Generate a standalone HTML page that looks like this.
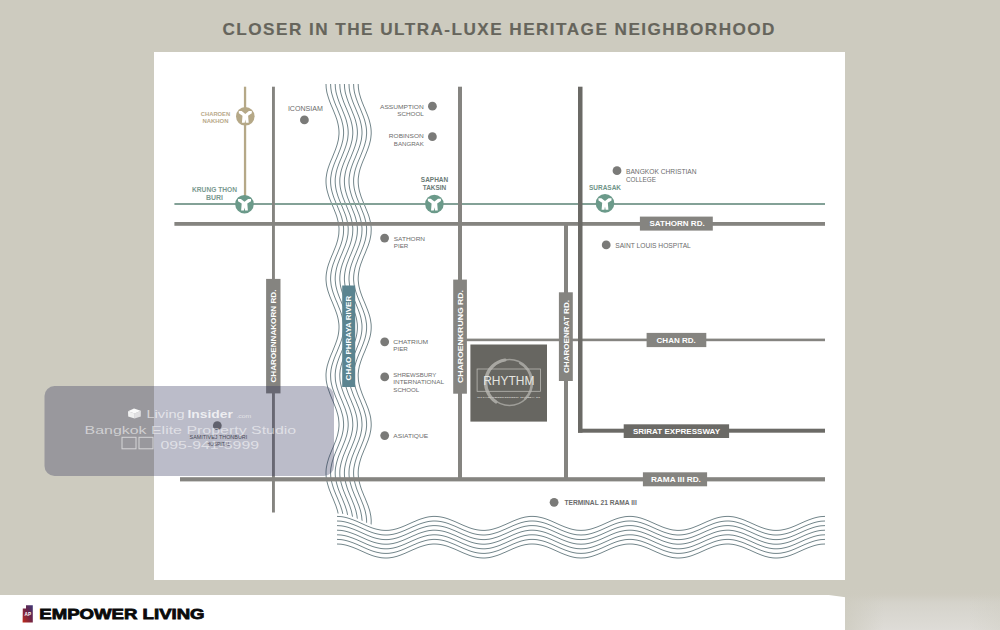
<!DOCTYPE html><html><head><meta charset="utf-8"><style>
html,body{margin:0;padding:0;width:1000px;height:630px;overflow:hidden;background:#cdcbbf;}
svg{display:block;font-family:"Liberation Sans", sans-serif;}
</style></head><body>
<svg width="1000" height="630" viewBox="0 0 1000 630">
<defs>
<linearGradient id="brg" x1="0" y1="0" x2="0" y2="1">
<stop offset="0" stop-color="#cdcbbf"/><stop offset="0.15" stop-color="#cecbc0"/><stop offset="0.35" stop-color="#d5d3cb"/><stop offset="1" stop-color="#dedcd7"/>
</linearGradient>
<linearGradient id="brh" x1="0" y1="0" x2="1" y2="0">
<stop offset="0" stop-color="#cdcbbf" stop-opacity="0.8"/><stop offset="0.25" stop-color="#cdcbbf" stop-opacity="0"/><stop offset="0.8" stop-color="#cdcbbf" stop-opacity="0"/><stop offset="1" stop-color="#cdcbbf" stop-opacity="0.3"/>
</linearGradient>
<linearGradient id="apg" x1="1" y1="0" x2="0" y2="1">
<stop offset="0" stop-color="#3c3878"/><stop offset="0.45" stop-color="#6a2448"/><stop offset="1" stop-color="#c22a18"/>
</linearGradient>
<g id="sta"><path d="M-6.5,-5.2 L-3.6,-5.2 L0,-2.4 L3.6,-5.2 L6.5,-5.2 L6.5,-3 L2.8,-0.6 L3.4,6.4 L0.6,6.4 L0,3.2 L-0.6,6.4 L-3.4,6.4 L-2.8,-0.6 L-6.5,-3 Z" fill="#fff"/></g>
<clipPath id="rclip"><polygon points="300,60 400,60 400.0,524.7 398.0,525.3 396.0,525.9 394.0,526.4 392.0,526.8 390.0,527.1 388.0,527.3 386.0,527.4 384.0,527.4 382.0,527.2 380.0,526.9 378.0,526.5 376.0,526.1 374.0,525.5 372.0,524.8 370.0,524.1 368.0,523.3 366.0,522.4 364.0,521.6 362.0,520.7 360.0,519.8 358.0,518.9 356.0,518.0 354.0,517.2 352.0,516.4 350.0,515.7 348.0,515.1 346.0,514.5 344.0,514.1 342.0,513.8 340.0,513.5 338.0,513.4 336.0,513.4 334.0,513.5 332.0,513.8 330.0,514.1 328.0,514.5 326.0,515.1 324.0,515.7 322.0,516.4 320.0,517.2 318.0,518.0 316.0,518.9 314.0,519.8 312.0,520.7 310.0,521.6 308.0,522.4 306.0,523.3 304.0,524.1 302.0,524.8 300.0,525.5"/></clipPath>
</defs>
<rect x="0" y="0" width="1000" height="630" fill="#cdcbbf"/>
<rect x="154" y="52" width="691" height="528" fill="#ffffff"/>
<rect x="0" y="595" width="845" height="35" fill="#ffffff"/>
<rect x="845" y="588" width="155" height="42" fill="url(#brg)"/><rect x="845" y="588" width="155" height="42" fill="url(#brh)"/><polygon points="825,594.5 845.6,594.5 845.6,597.3" fill="#cdcbbf"/>

<text transform="translate(222.5,35) scale(1.1,1)" x="0" y="0" font-size="15.6" fill="#66655c" stroke="#66655c" stroke-width="0.15" font-weight="bold" textLength="501.8" lengthAdjust="spacing">CLOSER IN THE ULTRA-LUXE HERITAGE NEIGHBORHOOD</text>
<g clip-path="url(#rclip)" fill="none" stroke="#72858a" stroke-width="1">
<path d="M326.0,84.0 L326.1,86.0 L326.2,88.0 L326.5,90.0 L326.8,92.0 L327.3,94.0 L327.9,96.0 L328.5,98.0 L329.2,100.0 L329.9,102.0 L330.7,104.0 L331.5,106.0 L332.4,108.0 L333.2,110.0 L334.0,112.0 L334.8,114.0 L335.6,116.0 L336.3,118.0 L337.0,120.0 L337.5,122.0 L338.0,124.0 L338.4,126.0 L338.7,128.0 L338.9,130.0 L339.0,132.0 L339.0,134.0 L338.8,136.0 L338.6,138.0 L338.3,140.0 L337.8,142.0 L337.3,144.0 L336.7,146.0 L336.0,148.0 L335.3,150.0 L334.5,152.0 L333.7,154.0 L332.9,156.0 L332.1,158.0 L331.2,160.0 L330.4,162.0 L329.6,164.0 L328.9,166.0 L328.2,168.0 L327.6,170.0 L327.1,172.0 L326.7,174.0 L326.4,176.0 L326.1,178.0 L326.0,180.0 L326.0,182.0 L326.1,184.0 L326.3,186.0 L326.6,188.0 L327.0,190.0 L327.5,192.0 L328.1,194.0 L328.7,196.0 L329.4,198.0 L330.2,200.0 L331.0,202.0 L331.8,204.0 L332.7,206.0 L333.5,208.0 L334.3,210.0 L335.1,212.0 L335.9,214.0 L336.6,216.0 L337.2,218.0 L337.7,220.0 L338.2,222.0 L338.5,224.0 L338.8,226.0 L339.0,228.0 L339.0,230.0 L338.9,232.0 L338.8,234.0 L338.5,236.0 L338.1,238.0 L337.7,240.0 L337.1,242.0 L336.5,244.0 L335.8,246.0 L335.0,248.0 L334.2,250.0 L333.4,252.0 L332.6,254.0 L331.7,256.0 L330.9,258.0 L330.1,260.0 L329.4,262.0 L328.6,264.0 L328.0,266.0 L327.4,268.0 L327.0,270.0 L326.6,272.0 L326.3,274.0 L326.1,276.0 L326.0,278.0 L326.0,280.0 L326.2,282.0 L326.4,284.0 L326.7,286.0 L327.2,288.0 L327.7,290.0 L328.3,292.0 L329.0,294.0 L329.7,296.0 L330.5,298.0 L331.3,300.0 L332.2,302.0 L333.0,304.0 L333.8,306.0 L334.6,308.0 L335.4,310.0 L336.1,312.0 L336.8,314.0 L337.4,316.0 L337.9,318.0 L338.3,320.0 L338.6,322.0 L338.9,324.0 L339.0,326.0 L339.0,328.0 L338.9,330.0 L338.7,332.0 L338.4,334.0 L338.0,336.0 L337.5,338.0 L336.9,340.0 L336.2,342.0 L335.5,344.0 L334.7,346.0 L333.9,348.0 L333.1,350.0 L332.3,352.0 L331.4,354.0 L330.6,356.0 L329.8,358.0 L329.1,360.0 L328.4,362.0 L327.8,364.0 L327.2,366.0 L326.8,368.0 L326.4,370.0 L326.2,372.0 L326.0,374.0 L326.0,376.0 L326.1,378.0 L326.2,380.0 L326.5,382.0 L326.9,384.0 L327.4,386.0 L327.9,388.0 L328.6,390.0 L329.3,392.0 L330.0,394.0 L330.8,396.0 L331.6,398.0 L332.5,400.0 L333.3,402.0 L334.1,404.0 L334.9,406.0 L335.7,408.0 L336.4,410.0 L337.0,412.0 L337.6,414.0 L338.1,416.0 L338.5,418.0 L338.7,420.0 L338.9,422.0 L339.0,424.0 L339.0,426.0 L338.8,428.0 L338.6,430.0 L338.2,432.0 L337.8,434.0 L337.3,436.0 L336.6,438.0 L336.0,440.0 L335.2,442.0 L334.4,444.0 L333.6,446.0 L332.8,448.0 L331.9,450.0 L331.1,452.0 L330.3,454.0 L329.5,456.0 L328.8,458.0 L328.2,460.0 L327.6,462.0 L327.1,464.0 L326.7,466.0 L326.3,468.0 L326.1,470.0 L326.0,472.0 L326.0,474.0 L326.1,476.0 L326.3,478.0 L326.7,480.0 L327.1,482.0 L327.6,484.0 L328.2,486.0 L328.8,488.0 L329.5,490.0 L330.3,492.0 L331.1,494.0 L331.9,496.0 L332.8,498.0 L333.6,500.0 L334.4,502.0 L335.2,504.0 L336.0,506.0 L336.6,508.0 L337.3,510.0 L337.8,512.0 L338.2,514.0 L338.6,516.0 L338.8,518.0 L339.0,520.0 L339.0,522.0 L338.9,524.0 L338.7,526.0 L338.5,528.0 L338.1,530.0"/>
<path d="M330.6,84.0 L330.7,86.0 L330.8,88.0 L331.1,90.0 L331.4,92.0 L331.9,94.0 L332.5,96.0 L333.1,98.0 L333.8,100.0 L334.5,102.0 L335.3,104.0 L336.1,106.0 L337.0,108.0 L337.8,110.0 L338.6,112.0 L339.4,114.0 L340.2,116.0 L340.9,118.0 L341.6,120.0 L342.1,122.0 L342.6,124.0 L343.0,126.0 L343.3,128.0 L343.5,130.0 L343.6,132.0 L343.6,134.0 L343.4,136.0 L343.2,138.0 L342.9,140.0 L342.4,142.0 L341.9,144.0 L341.3,146.0 L340.6,148.0 L339.9,150.0 L339.1,152.0 L338.3,154.0 L337.5,156.0 L336.7,158.0 L335.8,160.0 L335.0,162.0 L334.2,164.0 L333.5,166.0 L332.8,168.0 L332.2,170.0 L331.7,172.0 L331.3,174.0 L331.0,176.0 L330.7,178.0 L330.6,180.0 L330.6,182.0 L330.7,184.0 L330.9,186.0 L331.2,188.0 L331.6,190.0 L332.1,192.0 L332.7,194.0 L333.3,196.0 L334.0,198.0 L334.8,200.0 L335.6,202.0 L336.4,204.0 L337.3,206.0 L338.1,208.0 L338.9,210.0 L339.7,212.0 L340.5,214.0 L341.2,216.0 L341.8,218.0 L342.3,220.0 L342.8,222.0 L343.1,224.0 L343.4,226.0 L343.6,228.0 L343.6,230.0 L343.5,232.0 L343.4,234.0 L343.1,236.0 L342.7,238.0 L342.3,240.0 L341.7,242.0 L341.1,244.0 L340.4,246.0 L339.6,248.0 L338.8,250.0 L338.0,252.0 L337.2,254.0 L336.3,256.0 L335.5,258.0 L334.7,260.0 L334.0,262.0 L333.2,264.0 L332.6,266.0 L332.0,268.0 L331.6,270.0 L331.2,272.0 L330.9,274.0 L330.7,276.0 L330.6,278.0 L330.6,280.0 L330.8,282.0 L331.0,284.0 L331.3,286.0 L331.8,288.0 L332.3,290.0 L332.9,292.0 L333.6,294.0 L334.3,296.0 L335.1,298.0 L335.9,300.0 L336.8,302.0 L337.6,304.0 L338.4,306.0 L339.2,308.0 L340.0,310.0 L340.7,312.0 L341.4,314.0 L342.0,316.0 L342.5,318.0 L342.9,320.0 L343.2,322.0 L343.5,324.0 L343.6,326.0 L343.6,328.0 L343.5,330.0 L343.3,332.0 L343.0,334.0 L342.6,336.0 L342.1,338.0 L341.5,340.0 L340.8,342.0 L340.1,344.0 L339.3,346.0 L338.5,348.0 L337.7,350.0 L336.9,352.0 L336.0,354.0 L335.2,356.0 L334.4,358.0 L333.7,360.0 L333.0,362.0 L332.4,364.0 L331.8,366.0 L331.4,368.0 L331.0,370.0 L330.8,372.0 L330.6,374.0 L330.6,376.0 L330.7,378.0 L330.8,380.0 L331.1,382.0 L331.5,384.0 L332.0,386.0 L332.5,388.0 L333.2,390.0 L333.9,392.0 L334.6,394.0 L335.4,396.0 L336.2,398.0 L337.1,400.0 L337.9,402.0 L338.7,404.0 L339.5,406.0 L340.3,408.0 L341.0,410.0 L341.6,412.0 L342.2,414.0 L342.7,416.0 L343.1,418.0 L343.3,420.0 L343.5,422.0 L343.6,424.0 L343.6,426.0 L343.4,428.0 L343.2,430.0 L342.8,432.0 L342.4,434.0 L341.9,436.0 L341.2,438.0 L340.6,440.0 L339.8,442.0 L339.0,444.0 L338.2,446.0 L337.4,448.0 L336.5,450.0 L335.7,452.0 L334.9,454.0 L334.1,456.0 L333.4,458.0 L332.8,460.0 L332.2,462.0 L331.7,464.0 L331.3,466.0 L330.9,468.0 L330.7,470.0 L330.6,472.0 L330.6,474.0 L330.7,476.0 L330.9,478.0 L331.3,480.0 L331.7,482.0 L332.2,484.0 L332.8,486.0 L333.4,488.0 L334.1,490.0 L334.9,492.0 L335.7,494.0 L336.5,496.0 L337.4,498.0 L338.2,500.0 L339.0,502.0 L339.8,504.0 L340.6,506.0 L341.2,508.0 L341.9,510.0 L342.4,512.0 L342.8,514.0 L343.2,516.0 L343.4,518.0 L343.6,520.0 L343.6,522.0 L343.5,524.0 L343.3,526.0 L343.1,528.0 L342.7,530.0"/>
<path d="M335.2,84.0 L335.3,86.0 L335.4,88.0 L335.7,90.0 L336.0,92.0 L336.5,94.0 L337.1,96.0 L337.7,98.0 L338.4,100.0 L339.1,102.0 L339.9,104.0 L340.7,106.0 L341.6,108.0 L342.4,110.0 L343.2,112.0 L344.0,114.0 L344.8,116.0 L345.5,118.0 L346.2,120.0 L346.7,122.0 L347.2,124.0 L347.6,126.0 L347.9,128.0 L348.1,130.0 L348.2,132.0 L348.2,134.0 L348.0,136.0 L347.8,138.0 L347.5,140.0 L347.0,142.0 L346.5,144.0 L345.9,146.0 L345.2,148.0 L344.5,150.0 L343.7,152.0 L342.9,154.0 L342.1,156.0 L341.3,158.0 L340.4,160.0 L339.6,162.0 L338.8,164.0 L338.1,166.0 L337.4,168.0 L336.8,170.0 L336.3,172.0 L335.9,174.0 L335.6,176.0 L335.3,178.0 L335.2,180.0 L335.2,182.0 L335.3,184.0 L335.5,186.0 L335.8,188.0 L336.2,190.0 L336.7,192.0 L337.3,194.0 L337.9,196.0 L338.6,198.0 L339.4,200.0 L340.2,202.0 L341.0,204.0 L341.9,206.0 L342.7,208.0 L343.5,210.0 L344.3,212.0 L345.1,214.0 L345.8,216.0 L346.4,218.0 L346.9,220.0 L347.4,222.0 L347.7,224.0 L348.0,226.0 L348.2,228.0 L348.2,230.0 L348.1,232.0 L348.0,234.0 L347.7,236.0 L347.3,238.0 L346.9,240.0 L346.3,242.0 L345.7,244.0 L345.0,246.0 L344.2,248.0 L343.4,250.0 L342.6,252.0 L341.8,254.0 L340.9,256.0 L340.1,258.0 L339.3,260.0 L338.6,262.0 L337.8,264.0 L337.2,266.0 L336.6,268.0 L336.2,270.0 L335.8,272.0 L335.5,274.0 L335.3,276.0 L335.2,278.0 L335.2,280.0 L335.4,282.0 L335.6,284.0 L335.9,286.0 L336.4,288.0 L336.9,290.0 L337.5,292.0 L338.2,294.0 L338.9,296.0 L339.7,298.0 L340.5,300.0 L341.4,302.0 L342.2,304.0 L343.0,306.0 L343.8,308.0 L344.6,310.0 L345.3,312.0 L346.0,314.0 L346.6,316.0 L347.1,318.0 L347.5,320.0 L347.8,322.0 L348.1,324.0 L348.2,326.0 L348.2,328.0 L348.1,330.0 L347.9,332.0 L347.6,334.0 L347.2,336.0 L346.7,338.0 L346.1,340.0 L345.4,342.0 L344.7,344.0 L343.9,346.0 L343.1,348.0 L342.3,350.0 L341.5,352.0 L340.6,354.0 L339.8,356.0 L339.0,358.0 L338.3,360.0 L337.6,362.0 L337.0,364.0 L336.4,366.0 L336.0,368.0 L335.6,370.0 L335.4,372.0 L335.2,374.0 L335.2,376.0 L335.3,378.0 L335.4,380.0 L335.7,382.0 L336.1,384.0 L336.6,386.0 L337.1,388.0 L337.8,390.0 L338.5,392.0 L339.2,394.0 L340.0,396.0 L340.8,398.0 L341.7,400.0 L342.5,402.0 L343.3,404.0 L344.1,406.0 L344.9,408.0 L345.6,410.0 L346.2,412.0 L346.8,414.0 L347.3,416.0 L347.7,418.0 L347.9,420.0 L348.1,422.0 L348.2,424.0 L348.2,426.0 L348.0,428.0 L347.8,430.0 L347.4,432.0 L347.0,434.0 L346.5,436.0 L345.8,438.0 L345.2,440.0 L344.4,442.0 L343.6,444.0 L342.8,446.0 L342.0,448.0 L341.1,450.0 L340.3,452.0 L339.5,454.0 L338.7,456.0 L338.0,458.0 L337.4,460.0 L336.8,462.0 L336.3,464.0 L335.9,466.0 L335.5,468.0 L335.3,470.0 L335.2,472.0 L335.2,474.0 L335.3,476.0 L335.5,478.0 L335.9,480.0 L336.3,482.0 L336.8,484.0 L337.4,486.0 L338.0,488.0 L338.7,490.0 L339.5,492.0 L340.3,494.0 L341.1,496.0 L342.0,498.0 L342.8,500.0 L343.6,502.0 L344.4,504.0 L345.2,506.0 L345.8,508.0 L346.5,510.0 L347.0,512.0 L347.4,514.0 L347.8,516.0 L348.0,518.0 L348.2,520.0 L348.2,522.0 L348.1,524.0 L347.9,526.0 L347.7,528.0 L347.3,530.0"/>
<path d="M339.8,84.0 L339.9,86.0 L340.0,88.0 L340.3,90.0 L340.6,92.0 L341.1,94.0 L341.7,96.0 L342.3,98.0 L343.0,100.0 L343.7,102.0 L344.5,104.0 L345.3,106.0 L346.2,108.0 L347.0,110.0 L347.8,112.0 L348.6,114.0 L349.4,116.0 L350.1,118.0 L350.8,120.0 L351.3,122.0 L351.8,124.0 L352.2,126.0 L352.5,128.0 L352.7,130.0 L352.8,132.0 L352.8,134.0 L352.6,136.0 L352.4,138.0 L352.1,140.0 L351.6,142.0 L351.1,144.0 L350.5,146.0 L349.8,148.0 L349.1,150.0 L348.3,152.0 L347.5,154.0 L346.7,156.0 L345.9,158.0 L345.0,160.0 L344.2,162.0 L343.4,164.0 L342.7,166.0 L342.0,168.0 L341.4,170.0 L340.9,172.0 L340.5,174.0 L340.2,176.0 L339.9,178.0 L339.8,180.0 L339.8,182.0 L339.9,184.0 L340.1,186.0 L340.4,188.0 L340.8,190.0 L341.3,192.0 L341.9,194.0 L342.5,196.0 L343.2,198.0 L344.0,200.0 L344.8,202.0 L345.6,204.0 L346.5,206.0 L347.3,208.0 L348.1,210.0 L348.9,212.0 L349.7,214.0 L350.4,216.0 L351.0,218.0 L351.5,220.0 L352.0,222.0 L352.3,224.0 L352.6,226.0 L352.8,228.0 L352.8,230.0 L352.7,232.0 L352.6,234.0 L352.3,236.0 L351.9,238.0 L351.5,240.0 L350.9,242.0 L350.3,244.0 L349.6,246.0 L348.8,248.0 L348.0,250.0 L347.2,252.0 L346.4,254.0 L345.5,256.0 L344.7,258.0 L343.9,260.0 L343.2,262.0 L342.4,264.0 L341.8,266.0 L341.2,268.0 L340.8,270.0 L340.4,272.0 L340.1,274.0 L339.9,276.0 L339.8,278.0 L339.8,280.0 L340.0,282.0 L340.2,284.0 L340.5,286.0 L341.0,288.0 L341.5,290.0 L342.1,292.0 L342.8,294.0 L343.5,296.0 L344.3,298.0 L345.1,300.0 L346.0,302.0 L346.8,304.0 L347.6,306.0 L348.4,308.0 L349.2,310.0 L349.9,312.0 L350.6,314.0 L351.2,316.0 L351.7,318.0 L352.1,320.0 L352.4,322.0 L352.7,324.0 L352.8,326.0 L352.8,328.0 L352.7,330.0 L352.5,332.0 L352.2,334.0 L351.8,336.0 L351.3,338.0 L350.7,340.0 L350.0,342.0 L349.3,344.0 L348.5,346.0 L347.7,348.0 L346.9,350.0 L346.1,352.0 L345.2,354.0 L344.4,356.0 L343.6,358.0 L342.9,360.0 L342.2,362.0 L341.6,364.0 L341.0,366.0 L340.6,368.0 L340.2,370.0 L340.0,372.0 L339.8,374.0 L339.8,376.0 L339.9,378.0 L340.0,380.0 L340.3,382.0 L340.7,384.0 L341.2,386.0 L341.7,388.0 L342.4,390.0 L343.1,392.0 L343.8,394.0 L344.6,396.0 L345.4,398.0 L346.3,400.0 L347.1,402.0 L347.9,404.0 L348.7,406.0 L349.5,408.0 L350.2,410.0 L350.8,412.0 L351.4,414.0 L351.9,416.0 L352.3,418.0 L352.5,420.0 L352.7,422.0 L352.8,424.0 L352.8,426.0 L352.6,428.0 L352.4,430.0 L352.0,432.0 L351.6,434.0 L351.1,436.0 L350.4,438.0 L349.8,440.0 L349.0,442.0 L348.2,444.0 L347.4,446.0 L346.6,448.0 L345.7,450.0 L344.9,452.0 L344.1,454.0 L343.3,456.0 L342.6,458.0 L342.0,460.0 L341.4,462.0 L340.9,464.0 L340.5,466.0 L340.1,468.0 L339.9,470.0 L339.8,472.0 L339.8,474.0 L339.9,476.0 L340.1,478.0 L340.5,480.0 L340.9,482.0 L341.4,484.0 L342.0,486.0 L342.6,488.0 L343.3,490.0 L344.1,492.0 L344.9,494.0 L345.7,496.0 L346.6,498.0 L347.4,500.0 L348.2,502.0 L349.0,504.0 L349.8,506.0 L350.4,508.0 L351.1,510.0 L351.6,512.0 L352.0,514.0 L352.4,516.0 L352.6,518.0 L352.8,520.0 L352.8,522.0 L352.7,524.0 L352.5,526.0 L352.3,528.0 L351.9,530.0"/>
<path d="M344.4,84.0 L344.5,86.0 L344.6,88.0 L344.9,90.0 L345.2,92.0 L345.7,94.0 L346.3,96.0 L346.9,98.0 L347.6,100.0 L348.3,102.0 L349.1,104.0 L349.9,106.0 L350.8,108.0 L351.6,110.0 L352.4,112.0 L353.2,114.0 L354.0,116.0 L354.7,118.0 L355.4,120.0 L355.9,122.0 L356.4,124.0 L356.8,126.0 L357.1,128.0 L357.3,130.0 L357.4,132.0 L357.4,134.0 L357.2,136.0 L357.0,138.0 L356.7,140.0 L356.2,142.0 L355.7,144.0 L355.1,146.0 L354.4,148.0 L353.7,150.0 L352.9,152.0 L352.1,154.0 L351.3,156.0 L350.5,158.0 L349.6,160.0 L348.8,162.0 L348.0,164.0 L347.3,166.0 L346.6,168.0 L346.0,170.0 L345.5,172.0 L345.1,174.0 L344.8,176.0 L344.5,178.0 L344.4,180.0 L344.4,182.0 L344.5,184.0 L344.7,186.0 L345.0,188.0 L345.4,190.0 L345.9,192.0 L346.5,194.0 L347.1,196.0 L347.8,198.0 L348.6,200.0 L349.4,202.0 L350.2,204.0 L351.1,206.0 L351.9,208.0 L352.7,210.0 L353.5,212.0 L354.3,214.0 L355.0,216.0 L355.6,218.0 L356.1,220.0 L356.6,222.0 L356.9,224.0 L357.2,226.0 L357.4,228.0 L357.4,230.0 L357.3,232.0 L357.2,234.0 L356.9,236.0 L356.5,238.0 L356.1,240.0 L355.5,242.0 L354.9,244.0 L354.2,246.0 L353.4,248.0 L352.6,250.0 L351.8,252.0 L351.0,254.0 L350.1,256.0 L349.3,258.0 L348.5,260.0 L347.8,262.0 L347.0,264.0 L346.4,266.0 L345.8,268.0 L345.4,270.0 L345.0,272.0 L344.7,274.0 L344.5,276.0 L344.4,278.0 L344.4,280.0 L344.6,282.0 L344.8,284.0 L345.1,286.0 L345.6,288.0 L346.1,290.0 L346.7,292.0 L347.4,294.0 L348.1,296.0 L348.9,298.0 L349.7,300.0 L350.6,302.0 L351.4,304.0 L352.2,306.0 L353.0,308.0 L353.8,310.0 L354.5,312.0 L355.2,314.0 L355.8,316.0 L356.3,318.0 L356.7,320.0 L357.0,322.0 L357.3,324.0 L357.4,326.0 L357.4,328.0 L357.3,330.0 L357.1,332.0 L356.8,334.0 L356.4,336.0 L355.9,338.0 L355.3,340.0 L354.6,342.0 L353.9,344.0 L353.1,346.0 L352.3,348.0 L351.5,350.0 L350.7,352.0 L349.8,354.0 L349.0,356.0 L348.2,358.0 L347.5,360.0 L346.8,362.0 L346.2,364.0 L345.6,366.0 L345.2,368.0 L344.8,370.0 L344.6,372.0 L344.4,374.0 L344.4,376.0 L344.5,378.0 L344.6,380.0 L344.9,382.0 L345.3,384.0 L345.8,386.0 L346.3,388.0 L347.0,390.0 L347.7,392.0 L348.4,394.0 L349.2,396.0 L350.0,398.0 L350.9,400.0 L351.7,402.0 L352.5,404.0 L353.3,406.0 L354.1,408.0 L354.8,410.0 L355.4,412.0 L356.0,414.0 L356.5,416.0 L356.9,418.0 L357.1,420.0 L357.3,422.0 L357.4,424.0 L357.4,426.0 L357.2,428.0 L357.0,430.0 L356.6,432.0 L356.2,434.0 L355.7,436.0 L355.0,438.0 L354.4,440.0 L353.6,442.0 L352.8,444.0 L352.0,446.0 L351.2,448.0 L350.3,450.0 L349.5,452.0 L348.7,454.0 L347.9,456.0 L347.2,458.0 L346.6,460.0 L346.0,462.0 L345.5,464.0 L345.1,466.0 L344.7,468.0 L344.5,470.0 L344.4,472.0 L344.4,474.0 L344.5,476.0 L344.7,478.0 L345.1,480.0 L345.5,482.0 L346.0,484.0 L346.6,486.0 L347.2,488.0 L347.9,490.0 L348.7,492.0 L349.5,494.0 L350.3,496.0 L351.2,498.0 L352.0,500.0 L352.8,502.0 L353.6,504.0 L354.4,506.0 L355.0,508.0 L355.7,510.0 L356.2,512.0 L356.6,514.0 L357.0,516.0 L357.2,518.0 L357.4,520.0 L357.4,522.0 L357.3,524.0 L357.1,526.0 L356.9,528.0 L356.5,530.0"/>
<path d="M349.0,84.0 L349.1,86.0 L349.2,88.0 L349.5,90.0 L349.8,92.0 L350.3,94.0 L350.9,96.0 L351.5,98.0 L352.2,100.0 L352.9,102.0 L353.7,104.0 L354.5,106.0 L355.4,108.0 L356.2,110.0 L357.0,112.0 L357.8,114.0 L358.6,116.0 L359.3,118.0 L360.0,120.0 L360.5,122.0 L361.0,124.0 L361.4,126.0 L361.7,128.0 L361.9,130.0 L362.0,132.0 L362.0,134.0 L361.8,136.0 L361.6,138.0 L361.3,140.0 L360.8,142.0 L360.3,144.0 L359.7,146.0 L359.0,148.0 L358.3,150.0 L357.5,152.0 L356.7,154.0 L355.9,156.0 L355.1,158.0 L354.2,160.0 L353.4,162.0 L352.6,164.0 L351.9,166.0 L351.2,168.0 L350.6,170.0 L350.1,172.0 L349.7,174.0 L349.4,176.0 L349.1,178.0 L349.0,180.0 L349.0,182.0 L349.1,184.0 L349.3,186.0 L349.6,188.0 L350.0,190.0 L350.5,192.0 L351.1,194.0 L351.7,196.0 L352.4,198.0 L353.2,200.0 L354.0,202.0 L354.8,204.0 L355.7,206.0 L356.5,208.0 L357.3,210.0 L358.1,212.0 L358.9,214.0 L359.6,216.0 L360.2,218.0 L360.7,220.0 L361.2,222.0 L361.5,224.0 L361.8,226.0 L362.0,228.0 L362.0,230.0 L361.9,232.0 L361.8,234.0 L361.5,236.0 L361.1,238.0 L360.7,240.0 L360.1,242.0 L359.5,244.0 L358.8,246.0 L358.0,248.0 L357.2,250.0 L356.4,252.0 L355.6,254.0 L354.7,256.0 L353.9,258.0 L353.1,260.0 L352.4,262.0 L351.6,264.0 L351.0,266.0 L350.4,268.0 L350.0,270.0 L349.6,272.0 L349.3,274.0 L349.1,276.0 L349.0,278.0 L349.0,280.0 L349.2,282.0 L349.4,284.0 L349.7,286.0 L350.2,288.0 L350.7,290.0 L351.3,292.0 L352.0,294.0 L352.7,296.0 L353.5,298.0 L354.3,300.0 L355.2,302.0 L356.0,304.0 L356.8,306.0 L357.6,308.0 L358.4,310.0 L359.1,312.0 L359.8,314.0 L360.4,316.0 L360.9,318.0 L361.3,320.0 L361.6,322.0 L361.9,324.0 L362.0,326.0 L362.0,328.0 L361.9,330.0 L361.7,332.0 L361.4,334.0 L361.0,336.0 L360.5,338.0 L359.9,340.0 L359.2,342.0 L358.5,344.0 L357.7,346.0 L356.9,348.0 L356.1,350.0 L355.3,352.0 L354.4,354.0 L353.6,356.0 L352.8,358.0 L352.1,360.0 L351.4,362.0 L350.8,364.0 L350.2,366.0 L349.8,368.0 L349.4,370.0 L349.2,372.0 L349.0,374.0 L349.0,376.0 L349.1,378.0 L349.2,380.0 L349.5,382.0 L349.9,384.0 L350.4,386.0 L350.9,388.0 L351.6,390.0 L352.3,392.0 L353.0,394.0 L353.8,396.0 L354.6,398.0 L355.5,400.0 L356.3,402.0 L357.1,404.0 L357.9,406.0 L358.7,408.0 L359.4,410.0 L360.0,412.0 L360.6,414.0 L361.1,416.0 L361.5,418.0 L361.7,420.0 L361.9,422.0 L362.0,424.0 L362.0,426.0 L361.8,428.0 L361.6,430.0 L361.2,432.0 L360.8,434.0 L360.3,436.0 L359.6,438.0 L359.0,440.0 L358.2,442.0 L357.4,444.0 L356.6,446.0 L355.8,448.0 L354.9,450.0 L354.1,452.0 L353.3,454.0 L352.5,456.0 L351.8,458.0 L351.2,460.0 L350.6,462.0 L350.1,464.0 L349.7,466.0 L349.3,468.0 L349.1,470.0 L349.0,472.0 L349.0,474.0 L349.1,476.0 L349.3,478.0 L349.7,480.0 L350.1,482.0 L350.6,484.0 L351.2,486.0 L351.8,488.0 L352.5,490.0 L353.3,492.0 L354.1,494.0 L354.9,496.0 L355.8,498.0 L356.6,500.0 L357.4,502.0 L358.2,504.0 L359.0,506.0 L359.6,508.0 L360.3,510.0 L360.8,512.0 L361.2,514.0 L361.6,516.0 L361.8,518.0 L362.0,520.0 L362.0,522.0 L361.9,524.0 L361.7,526.0 L361.5,528.0 L361.1,530.0"/>
<path d="M353.6,84.0 L353.7,86.0 L353.8,88.0 L354.1,90.0 L354.4,92.0 L354.9,94.0 L355.5,96.0 L356.1,98.0 L356.8,100.0 L357.5,102.0 L358.3,104.0 L359.1,106.0 L360.0,108.0 L360.8,110.0 L361.6,112.0 L362.4,114.0 L363.2,116.0 L363.9,118.0 L364.6,120.0 L365.1,122.0 L365.6,124.0 L366.0,126.0 L366.3,128.0 L366.5,130.0 L366.6,132.0 L366.6,134.0 L366.4,136.0 L366.2,138.0 L365.9,140.0 L365.4,142.0 L364.9,144.0 L364.3,146.0 L363.6,148.0 L362.9,150.0 L362.1,152.0 L361.3,154.0 L360.5,156.0 L359.7,158.0 L358.8,160.0 L358.0,162.0 L357.2,164.0 L356.5,166.0 L355.8,168.0 L355.2,170.0 L354.7,172.0 L354.3,174.0 L354.0,176.0 L353.7,178.0 L353.6,180.0 L353.6,182.0 L353.7,184.0 L353.9,186.0 L354.2,188.0 L354.6,190.0 L355.1,192.0 L355.7,194.0 L356.3,196.0 L357.0,198.0 L357.8,200.0 L358.6,202.0 L359.4,204.0 L360.3,206.0 L361.1,208.0 L361.9,210.0 L362.7,212.0 L363.5,214.0 L364.2,216.0 L364.8,218.0 L365.3,220.0 L365.8,222.0 L366.1,224.0 L366.4,226.0 L366.6,228.0 L366.6,230.0 L366.5,232.0 L366.4,234.0 L366.1,236.0 L365.7,238.0 L365.3,240.0 L364.7,242.0 L364.1,244.0 L363.4,246.0 L362.6,248.0 L361.8,250.0 L361.0,252.0 L360.2,254.0 L359.3,256.0 L358.5,258.0 L357.7,260.0 L357.0,262.0 L356.2,264.0 L355.6,266.0 L355.0,268.0 L354.6,270.0 L354.2,272.0 L353.9,274.0 L353.7,276.0 L353.6,278.0 L353.6,280.0 L353.8,282.0 L354.0,284.0 L354.3,286.0 L354.8,288.0 L355.3,290.0 L355.9,292.0 L356.6,294.0 L357.3,296.0 L358.1,298.0 L358.9,300.0 L359.8,302.0 L360.6,304.0 L361.4,306.0 L362.2,308.0 L363.0,310.0 L363.7,312.0 L364.4,314.0 L365.0,316.0 L365.5,318.0 L365.9,320.0 L366.2,322.0 L366.5,324.0 L366.6,326.0 L366.6,328.0 L366.5,330.0 L366.3,332.0 L366.0,334.0 L365.6,336.0 L365.1,338.0 L364.5,340.0 L363.8,342.0 L363.1,344.0 L362.3,346.0 L361.5,348.0 L360.7,350.0 L359.9,352.0 L359.0,354.0 L358.2,356.0 L357.4,358.0 L356.7,360.0 L356.0,362.0 L355.4,364.0 L354.8,366.0 L354.4,368.0 L354.0,370.0 L353.8,372.0 L353.6,374.0 L353.6,376.0 L353.7,378.0 L353.8,380.0 L354.1,382.0 L354.5,384.0 L355.0,386.0 L355.5,388.0 L356.2,390.0 L356.9,392.0 L357.6,394.0 L358.4,396.0 L359.2,398.0 L360.1,400.0 L360.9,402.0 L361.7,404.0 L362.5,406.0 L363.3,408.0 L364.0,410.0 L364.6,412.0 L365.2,414.0 L365.7,416.0 L366.1,418.0 L366.3,420.0 L366.5,422.0 L366.6,424.0 L366.6,426.0 L366.4,428.0 L366.2,430.0 L365.8,432.0 L365.4,434.0 L364.9,436.0 L364.2,438.0 L363.6,440.0 L362.8,442.0 L362.0,444.0 L361.2,446.0 L360.4,448.0 L359.5,450.0 L358.7,452.0 L357.9,454.0 L357.1,456.0 L356.4,458.0 L355.8,460.0 L355.2,462.0 L354.7,464.0 L354.3,466.0 L353.9,468.0 L353.7,470.0 L353.6,472.0 L353.6,474.0 L353.7,476.0 L353.9,478.0 L354.3,480.0 L354.7,482.0 L355.2,484.0 L355.8,486.0 L356.4,488.0 L357.1,490.0 L357.9,492.0 L358.7,494.0 L359.5,496.0 L360.4,498.0 L361.2,500.0 L362.0,502.0 L362.8,504.0 L363.6,506.0 L364.2,508.0 L364.9,510.0 L365.4,512.0 L365.8,514.0 L366.2,516.0 L366.4,518.0 L366.6,520.0 L366.6,522.0 L366.5,524.0 L366.3,526.0 L366.1,528.0 L365.7,530.0"/>
<path d="M358.2,84.0 L358.3,86.0 L358.4,88.0 L358.7,90.0 L359.0,92.0 L359.5,94.0 L360.1,96.0 L360.7,98.0 L361.4,100.0 L362.1,102.0 L362.9,104.0 L363.7,106.0 L364.6,108.0 L365.4,110.0 L366.2,112.0 L367.0,114.0 L367.8,116.0 L368.5,118.0 L369.2,120.0 L369.7,122.0 L370.2,124.0 L370.6,126.0 L370.9,128.0 L371.1,130.0 L371.2,132.0 L371.2,134.0 L371.0,136.0 L370.8,138.0 L370.5,140.0 L370.0,142.0 L369.5,144.0 L368.9,146.0 L368.2,148.0 L367.5,150.0 L366.7,152.0 L365.9,154.0 L365.1,156.0 L364.3,158.0 L363.4,160.0 L362.6,162.0 L361.8,164.0 L361.1,166.0 L360.4,168.0 L359.8,170.0 L359.3,172.0 L358.9,174.0 L358.6,176.0 L358.3,178.0 L358.2,180.0 L358.2,182.0 L358.3,184.0 L358.5,186.0 L358.8,188.0 L359.2,190.0 L359.7,192.0 L360.3,194.0 L360.9,196.0 L361.6,198.0 L362.4,200.0 L363.2,202.0 L364.0,204.0 L364.9,206.0 L365.7,208.0 L366.5,210.0 L367.3,212.0 L368.1,214.0 L368.8,216.0 L369.4,218.0 L369.9,220.0 L370.4,222.0 L370.7,224.0 L371.0,226.0 L371.2,228.0 L371.2,230.0 L371.1,232.0 L371.0,234.0 L370.7,236.0 L370.3,238.0 L369.9,240.0 L369.3,242.0 L368.7,244.0 L368.0,246.0 L367.2,248.0 L366.4,250.0 L365.6,252.0 L364.8,254.0 L363.9,256.0 L363.1,258.0 L362.3,260.0 L361.6,262.0 L360.8,264.0 L360.2,266.0 L359.6,268.0 L359.2,270.0 L358.8,272.0 L358.5,274.0 L358.3,276.0 L358.2,278.0 L358.2,280.0 L358.4,282.0 L358.6,284.0 L358.9,286.0 L359.4,288.0 L359.9,290.0 L360.5,292.0 L361.2,294.0 L361.9,296.0 L362.7,298.0 L363.5,300.0 L364.4,302.0 L365.2,304.0 L366.0,306.0 L366.8,308.0 L367.6,310.0 L368.3,312.0 L369.0,314.0 L369.6,316.0 L370.1,318.0 L370.5,320.0 L370.8,322.0 L371.1,324.0 L371.2,326.0 L371.2,328.0 L371.1,330.0 L370.9,332.0 L370.6,334.0 L370.2,336.0 L369.7,338.0 L369.1,340.0 L368.4,342.0 L367.7,344.0 L366.9,346.0 L366.1,348.0 L365.3,350.0 L364.5,352.0 L363.6,354.0 L362.8,356.0 L362.0,358.0 L361.3,360.0 L360.6,362.0 L360.0,364.0 L359.4,366.0 L359.0,368.0 L358.6,370.0 L358.4,372.0 L358.2,374.0 L358.2,376.0 L358.3,378.0 L358.4,380.0 L358.7,382.0 L359.1,384.0 L359.6,386.0 L360.1,388.0 L360.8,390.0 L361.5,392.0 L362.2,394.0 L363.0,396.0 L363.8,398.0 L364.7,400.0 L365.5,402.0 L366.3,404.0 L367.1,406.0 L367.9,408.0 L368.6,410.0 L369.2,412.0 L369.8,414.0 L370.3,416.0 L370.7,418.0 L370.9,420.0 L371.1,422.0 L371.2,424.0 L371.2,426.0 L371.0,428.0 L370.8,430.0 L370.4,432.0 L370.0,434.0 L369.5,436.0 L368.8,438.0 L368.2,440.0 L367.4,442.0 L366.6,444.0 L365.8,446.0 L365.0,448.0 L364.1,450.0 L363.3,452.0 L362.5,454.0 L361.7,456.0 L361.0,458.0 L360.4,460.0 L359.8,462.0 L359.3,464.0 L358.9,466.0 L358.5,468.0 L358.3,470.0 L358.2,472.0 L358.2,474.0 L358.3,476.0 L358.5,478.0 L358.9,480.0 L359.3,482.0 L359.8,484.0 L360.4,486.0 L361.0,488.0 L361.7,490.0 L362.5,492.0 L363.3,494.0 L364.1,496.0 L365.0,498.0 L365.8,500.0 L366.6,502.0 L367.4,504.0 L368.2,506.0 L368.8,508.0 L369.5,510.0 L370.0,512.0 L370.4,514.0 L370.8,516.0 L371.0,518.0 L371.2,520.0 L371.2,522.0 L371.1,524.0 L370.9,526.0 L370.7,528.0 L370.3,530.0"/>
</g>
<g fill="none" stroke="#72858a" stroke-width="1">
<path d="M337.0,516.4 L339.0,516.5 L341.0,516.6 L343.0,516.9 L345.0,517.3 L347.0,517.8 L349.0,518.4 L351.0,519.1 L353.0,519.8 L355.0,520.6 L357.0,521.4 L359.0,522.3 L361.0,523.2 L363.0,524.1 L365.0,525.0 L367.0,525.9 L369.0,526.7 L371.0,527.5 L373.0,528.2 L375.0,528.8 L377.0,529.3 L379.0,529.7 L381.0,530.1 L383.0,530.3 L385.0,530.4 L387.0,530.4 L389.0,530.3 L391.0,530.0 L393.0,529.7 L395.0,529.2 L397.0,528.7 L399.0,528.0 L401.0,527.3 L403.0,526.5 L405.0,525.7 L407.0,524.8 L409.0,523.9 L411.0,523.0 L413.0,522.1 L415.0,521.3 L417.0,520.4 L419.0,519.6 L421.0,518.9 L423.0,518.3 L425.0,517.7 L427.0,517.2 L429.0,516.8 L431.0,516.6 L433.0,516.4 L435.0,516.4 L437.0,516.5 L439.0,516.7 L441.0,517.0 L443.0,517.4 L445.0,517.9 L447.0,518.5 L449.0,519.2 L451.0,520.0 L453.0,520.8 L455.0,521.6 L457.0,522.5 L459.0,523.4 L461.0,524.3 L463.0,525.2 L465.0,526.0 L467.0,526.8 L469.0,527.6 L471.0,528.3 L473.0,528.9 L475.0,529.4 L477.0,529.8 L479.0,530.1 L481.0,530.3 L483.0,530.4 L485.0,530.4 L487.0,530.2 L489.0,530.0 L491.0,529.6 L493.0,529.1 L495.0,528.5 L497.0,527.9 L499.0,527.2 L501.0,526.4 L503.0,525.5 L505.0,524.7 L507.0,523.8 L509.0,522.9 L511.0,522.0 L513.0,521.1 L515.0,520.3 L517.0,519.5 L519.0,518.8 L521.0,518.1 L523.0,517.6 L525.0,517.1 L527.0,516.8 L529.0,516.5 L531.0,516.4 L533.0,516.4 L535.0,516.5 L537.0,516.7 L539.0,517.1 L541.0,517.5 L543.0,518.0 L545.0,518.6 L547.0,519.3 L549.0,520.1 L551.0,520.9 L553.0,521.8 L555.0,522.7 L557.0,523.6 L559.0,524.5 L561.0,525.4 L563.0,526.2 L565.0,527.0 L567.0,527.7 L569.0,528.4 L571.0,529.0 L573.0,529.5 L575.0,529.9 L577.0,530.2 L579.0,530.3 L581.0,530.4 L583.0,530.3 L585.0,530.2 L587.0,529.9 L589.0,529.5 L591.0,529.0 L593.0,528.4 L595.0,527.7 L597.0,527.0 L599.0,526.2 L601.0,525.4 L603.0,524.5 L605.0,523.6 L607.0,522.7 L609.0,521.8 L611.0,520.9 L613.0,520.1 L615.0,519.3 L617.0,518.6 L619.0,518.0 L621.0,517.5 L623.0,517.1 L625.0,516.7 L627.0,516.5 L629.0,516.4 L631.0,516.4 L633.0,516.5 L635.0,516.8 L637.0,517.1 L639.0,517.6 L641.0,518.1 L643.0,518.8 L645.0,519.5 L647.0,520.3 L649.0,521.1 L651.0,522.0 L653.0,522.9 L655.0,523.8 L657.0,524.7 L659.0,525.5 L661.0,526.4 L663.0,527.2 L665.0,527.9 L667.0,528.5 L669.0,529.1 L671.0,529.6 L673.0,530.0 L675.0,530.2 L677.0,530.4 L679.0,530.4 L681.0,530.3 L683.0,530.1 L685.0,529.8 L687.0,529.4 L689.0,528.9 L691.0,528.3 L693.0,527.6 L695.0,526.8 L697.0,526.0 L699.0,525.2 L701.0,524.3 L703.0,523.4 L705.0,522.5 L707.0,521.6 L709.0,520.8 L711.0,520.0 L713.0,519.2 L715.0,518.5 L717.0,517.9 L719.0,517.4 L721.0,517.0 L723.0,516.7 L725.0,516.5 L727.0,516.4 L729.0,516.4 L731.0,516.6 L733.0,516.8 L735.0,517.2 L737.0,517.7 L739.0,518.3 L741.0,518.9 L743.0,519.6 L745.0,520.4 L747.0,521.3 L749.0,522.1 L751.0,523.0 L753.0,523.9 L755.0,524.8 L757.0,525.7 L759.0,526.5 L761.0,527.3 L763.0,528.0 L765.0,528.7 L767.0,529.2 L769.0,529.7 L771.0,530.0 L773.0,530.3 L775.0,530.4 L777.0,530.4 L779.0,530.3 L781.0,530.1 L783.0,529.7 L785.0,529.3 L787.0,528.8 L789.0,528.2 L791.0,527.5 L793.0,526.7 L795.0,525.9 L797.0,525.0 L799.0,524.1 L801.0,523.2 L803.0,522.3 L805.0,521.4 L807.0,520.6 L809.0,519.8 L811.0,519.1 L813.0,518.4 L815.0,517.8 L817.0,517.3 L819.0,516.9 L821.0,516.6 L823.0,516.5 L825.0,516.4"/>
<path d="M337.0,521.0 L339.0,521.1 L341.0,521.2 L343.0,521.5 L345.0,521.9 L347.0,522.4 L349.0,523.0 L351.0,523.7 L353.0,524.4 L355.0,525.2 L357.0,526.0 L359.0,526.9 L361.0,527.8 L363.0,528.7 L365.0,529.6 L367.0,530.5 L369.0,531.3 L371.0,532.1 L373.0,532.8 L375.0,533.4 L377.0,533.9 L379.0,534.3 L381.0,534.7 L383.0,534.9 L385.0,535.0 L387.0,535.0 L389.0,534.9 L391.0,534.6 L393.0,534.3 L395.0,533.8 L397.0,533.3 L399.0,532.6 L401.0,531.9 L403.0,531.1 L405.0,530.3 L407.0,529.4 L409.0,528.5 L411.0,527.6 L413.0,526.7 L415.0,525.9 L417.0,525.0 L419.0,524.2 L421.0,523.5 L423.0,522.9 L425.0,522.3 L427.0,521.8 L429.0,521.4 L431.0,521.2 L433.0,521.0 L435.0,521.0 L437.0,521.1 L439.0,521.3 L441.0,521.6 L443.0,522.0 L445.0,522.5 L447.0,523.1 L449.0,523.8 L451.0,524.6 L453.0,525.4 L455.0,526.2 L457.0,527.1 L459.0,528.0 L461.0,528.9 L463.0,529.8 L465.0,530.6 L467.0,531.4 L469.0,532.2 L471.0,532.9 L473.0,533.5 L475.0,534.0 L477.0,534.4 L479.0,534.7 L481.0,534.9 L483.0,535.0 L485.0,535.0 L487.0,534.8 L489.0,534.6 L491.0,534.2 L493.0,533.7 L495.0,533.1 L497.0,532.5 L499.0,531.8 L501.0,531.0 L503.0,530.1 L505.0,529.3 L507.0,528.4 L509.0,527.5 L511.0,526.6 L513.0,525.7 L515.0,524.9 L517.0,524.1 L519.0,523.4 L521.0,522.7 L523.0,522.2 L525.0,521.7 L527.0,521.4 L529.0,521.1 L531.0,521.0 L533.0,521.0 L535.0,521.1 L537.0,521.3 L539.0,521.7 L541.0,522.1 L543.0,522.6 L545.0,523.2 L547.0,523.9 L549.0,524.7 L551.0,525.5 L553.0,526.4 L555.0,527.3 L557.0,528.2 L559.0,529.1 L561.0,530.0 L563.0,530.8 L565.0,531.6 L567.0,532.3 L569.0,533.0 L571.0,533.6 L573.0,534.1 L575.0,534.5 L577.0,534.8 L579.0,534.9 L581.0,535.0 L583.0,534.9 L585.0,534.8 L587.0,534.5 L589.0,534.1 L591.0,533.6 L593.0,533.0 L595.0,532.3 L597.0,531.6 L599.0,530.8 L601.0,530.0 L603.0,529.1 L605.0,528.2 L607.0,527.3 L609.0,526.4 L611.0,525.5 L613.0,524.7 L615.0,523.9 L617.0,523.2 L619.0,522.6 L621.0,522.1 L623.0,521.7 L625.0,521.3 L627.0,521.1 L629.0,521.0 L631.0,521.0 L633.0,521.1 L635.0,521.4 L637.0,521.7 L639.0,522.2 L641.0,522.7 L643.0,523.4 L645.0,524.1 L647.0,524.9 L649.0,525.7 L651.0,526.6 L653.0,527.5 L655.0,528.4 L657.0,529.3 L659.0,530.1 L661.0,531.0 L663.0,531.8 L665.0,532.5 L667.0,533.1 L669.0,533.7 L671.0,534.2 L673.0,534.6 L675.0,534.8 L677.0,535.0 L679.0,535.0 L681.0,534.9 L683.0,534.7 L685.0,534.4 L687.0,534.0 L689.0,533.5 L691.0,532.9 L693.0,532.2 L695.0,531.4 L697.0,530.6 L699.0,529.8 L701.0,528.9 L703.0,528.0 L705.0,527.1 L707.0,526.2 L709.0,525.4 L711.0,524.6 L713.0,523.8 L715.0,523.1 L717.0,522.5 L719.0,522.0 L721.0,521.6 L723.0,521.3 L725.0,521.1 L727.0,521.0 L729.0,521.0 L731.0,521.2 L733.0,521.4 L735.0,521.8 L737.0,522.3 L739.0,522.9 L741.0,523.5 L743.0,524.2 L745.0,525.0 L747.0,525.9 L749.0,526.7 L751.0,527.6 L753.0,528.5 L755.0,529.4 L757.0,530.3 L759.0,531.1 L761.0,531.9 L763.0,532.6 L765.0,533.3 L767.0,533.8 L769.0,534.3 L771.0,534.6 L773.0,534.9 L775.0,535.0 L777.0,535.0 L779.0,534.9 L781.0,534.7 L783.0,534.3 L785.0,533.9 L787.0,533.4 L789.0,532.8 L791.0,532.1 L793.0,531.3 L795.0,530.5 L797.0,529.6 L799.0,528.7 L801.0,527.8 L803.0,526.9 L805.0,526.0 L807.0,525.2 L809.0,524.4 L811.0,523.7 L813.0,523.0 L815.0,522.4 L817.0,521.9 L819.0,521.5 L821.0,521.2 L823.0,521.1 L825.0,521.0"/>
<path d="M337.0,525.6 L339.0,525.7 L341.0,525.8 L343.0,526.1 L345.0,526.5 L347.0,527.0 L349.0,527.6 L351.0,528.3 L353.0,529.0 L355.0,529.8 L357.0,530.6 L359.0,531.5 L361.0,532.4 L363.0,533.3 L365.0,534.2 L367.0,535.1 L369.0,535.9 L371.0,536.7 L373.0,537.4 L375.0,538.0 L377.0,538.5 L379.0,538.9 L381.0,539.3 L383.0,539.5 L385.0,539.6 L387.0,539.6 L389.0,539.5 L391.0,539.2 L393.0,538.9 L395.0,538.4 L397.0,537.9 L399.0,537.2 L401.0,536.5 L403.0,535.7 L405.0,534.9 L407.0,534.0 L409.0,533.1 L411.0,532.2 L413.0,531.3 L415.0,530.5 L417.0,529.6 L419.0,528.8 L421.0,528.1 L423.0,527.5 L425.0,526.9 L427.0,526.4 L429.0,526.0 L431.0,525.8 L433.0,525.6 L435.0,525.6 L437.0,525.7 L439.0,525.9 L441.0,526.2 L443.0,526.6 L445.0,527.1 L447.0,527.7 L449.0,528.4 L451.0,529.2 L453.0,530.0 L455.0,530.8 L457.0,531.7 L459.0,532.6 L461.0,533.5 L463.0,534.4 L465.0,535.2 L467.0,536.0 L469.0,536.8 L471.0,537.5 L473.0,538.1 L475.0,538.6 L477.0,539.0 L479.0,539.3 L481.0,539.5 L483.0,539.6 L485.0,539.6 L487.0,539.4 L489.0,539.2 L491.0,538.8 L493.0,538.3 L495.0,537.7 L497.0,537.1 L499.0,536.4 L501.0,535.6 L503.0,534.7 L505.0,533.9 L507.0,533.0 L509.0,532.1 L511.0,531.2 L513.0,530.3 L515.0,529.5 L517.0,528.7 L519.0,528.0 L521.0,527.3 L523.0,526.8 L525.0,526.3 L527.0,526.0 L529.0,525.7 L531.0,525.6 L533.0,525.6 L535.0,525.7 L537.0,525.9 L539.0,526.3 L541.0,526.7 L543.0,527.2 L545.0,527.8 L547.0,528.5 L549.0,529.3 L551.0,530.1 L553.0,531.0 L555.0,531.9 L557.0,532.8 L559.0,533.7 L561.0,534.6 L563.0,535.4 L565.0,536.2 L567.0,536.9 L569.0,537.6 L571.0,538.2 L573.0,538.7 L575.0,539.1 L577.0,539.4 L579.0,539.5 L581.0,539.6 L583.0,539.5 L585.0,539.4 L587.0,539.1 L589.0,538.7 L591.0,538.2 L593.0,537.6 L595.0,536.9 L597.0,536.2 L599.0,535.4 L601.0,534.6 L603.0,533.7 L605.0,532.8 L607.0,531.9 L609.0,531.0 L611.0,530.1 L613.0,529.3 L615.0,528.5 L617.0,527.8 L619.0,527.2 L621.0,526.7 L623.0,526.3 L625.0,525.9 L627.0,525.7 L629.0,525.6 L631.0,525.6 L633.0,525.7 L635.0,526.0 L637.0,526.3 L639.0,526.8 L641.0,527.3 L643.0,528.0 L645.0,528.7 L647.0,529.5 L649.0,530.3 L651.0,531.2 L653.0,532.1 L655.0,533.0 L657.0,533.9 L659.0,534.7 L661.0,535.6 L663.0,536.4 L665.0,537.1 L667.0,537.7 L669.0,538.3 L671.0,538.8 L673.0,539.2 L675.0,539.4 L677.0,539.6 L679.0,539.6 L681.0,539.5 L683.0,539.3 L685.0,539.0 L687.0,538.6 L689.0,538.1 L691.0,537.5 L693.0,536.8 L695.0,536.0 L697.0,535.2 L699.0,534.4 L701.0,533.5 L703.0,532.6 L705.0,531.7 L707.0,530.8 L709.0,530.0 L711.0,529.2 L713.0,528.4 L715.0,527.7 L717.0,527.1 L719.0,526.6 L721.0,526.2 L723.0,525.9 L725.0,525.7 L727.0,525.6 L729.0,525.6 L731.0,525.8 L733.0,526.0 L735.0,526.4 L737.0,526.9 L739.0,527.5 L741.0,528.1 L743.0,528.8 L745.0,529.6 L747.0,530.5 L749.0,531.3 L751.0,532.2 L753.0,533.1 L755.0,534.0 L757.0,534.9 L759.0,535.7 L761.0,536.5 L763.0,537.2 L765.0,537.9 L767.0,538.4 L769.0,538.9 L771.0,539.2 L773.0,539.5 L775.0,539.6 L777.0,539.6 L779.0,539.5 L781.0,539.3 L783.0,538.9 L785.0,538.5 L787.0,538.0 L789.0,537.4 L791.0,536.7 L793.0,535.9 L795.0,535.1 L797.0,534.2 L799.0,533.3 L801.0,532.4 L803.0,531.5 L805.0,530.6 L807.0,529.8 L809.0,529.0 L811.0,528.3 L813.0,527.6 L815.0,527.0 L817.0,526.5 L819.0,526.1 L821.0,525.8 L823.0,525.7 L825.0,525.6"/>
<path d="M337.0,530.2 L339.0,530.3 L341.0,530.4 L343.0,530.7 L345.0,531.1 L347.0,531.6 L349.0,532.2 L351.0,532.9 L353.0,533.6 L355.0,534.4 L357.0,535.2 L359.0,536.1 L361.0,537.0 L363.0,537.9 L365.0,538.8 L367.0,539.7 L369.0,540.5 L371.0,541.3 L373.0,542.0 L375.0,542.6 L377.0,543.1 L379.0,543.5 L381.0,543.9 L383.0,544.1 L385.0,544.2 L387.0,544.2 L389.0,544.1 L391.0,543.8 L393.0,543.5 L395.0,543.0 L397.0,542.5 L399.0,541.8 L401.0,541.1 L403.0,540.3 L405.0,539.5 L407.0,538.6 L409.0,537.7 L411.0,536.8 L413.0,535.9 L415.0,535.1 L417.0,534.2 L419.0,533.4 L421.0,532.7 L423.0,532.1 L425.0,531.5 L427.0,531.0 L429.0,530.6 L431.0,530.4 L433.0,530.2 L435.0,530.2 L437.0,530.3 L439.0,530.5 L441.0,530.8 L443.0,531.2 L445.0,531.7 L447.0,532.3 L449.0,533.0 L451.0,533.8 L453.0,534.6 L455.0,535.4 L457.0,536.3 L459.0,537.2 L461.0,538.1 L463.0,539.0 L465.0,539.8 L467.0,540.6 L469.0,541.4 L471.0,542.1 L473.0,542.7 L475.0,543.2 L477.0,543.6 L479.0,543.9 L481.0,544.1 L483.0,544.2 L485.0,544.2 L487.0,544.0 L489.0,543.8 L491.0,543.4 L493.0,542.9 L495.0,542.3 L497.0,541.7 L499.0,541.0 L501.0,540.2 L503.0,539.3 L505.0,538.5 L507.0,537.6 L509.0,536.7 L511.0,535.8 L513.0,534.9 L515.0,534.1 L517.0,533.3 L519.0,532.6 L521.0,531.9 L523.0,531.4 L525.0,530.9 L527.0,530.6 L529.0,530.3 L531.0,530.2 L533.0,530.2 L535.0,530.3 L537.0,530.5 L539.0,530.9 L541.0,531.3 L543.0,531.8 L545.0,532.4 L547.0,533.1 L549.0,533.9 L551.0,534.7 L553.0,535.6 L555.0,536.5 L557.0,537.4 L559.0,538.3 L561.0,539.2 L563.0,540.0 L565.0,540.8 L567.0,541.5 L569.0,542.2 L571.0,542.8 L573.0,543.3 L575.0,543.7 L577.0,544.0 L579.0,544.1 L581.0,544.2 L583.0,544.1 L585.0,544.0 L587.0,543.7 L589.0,543.3 L591.0,542.8 L593.0,542.2 L595.0,541.5 L597.0,540.8 L599.0,540.0 L601.0,539.2 L603.0,538.3 L605.0,537.4 L607.0,536.5 L609.0,535.6 L611.0,534.7 L613.0,533.9 L615.0,533.1 L617.0,532.4 L619.0,531.8 L621.0,531.3 L623.0,530.9 L625.0,530.5 L627.0,530.3 L629.0,530.2 L631.0,530.2 L633.0,530.3 L635.0,530.6 L637.0,530.9 L639.0,531.4 L641.0,531.9 L643.0,532.6 L645.0,533.3 L647.0,534.1 L649.0,534.9 L651.0,535.8 L653.0,536.7 L655.0,537.6 L657.0,538.5 L659.0,539.3 L661.0,540.2 L663.0,541.0 L665.0,541.7 L667.0,542.3 L669.0,542.9 L671.0,543.4 L673.0,543.8 L675.0,544.0 L677.0,544.2 L679.0,544.2 L681.0,544.1 L683.0,543.9 L685.0,543.6 L687.0,543.2 L689.0,542.7 L691.0,542.1 L693.0,541.4 L695.0,540.6 L697.0,539.8 L699.0,539.0 L701.0,538.1 L703.0,537.2 L705.0,536.3 L707.0,535.4 L709.0,534.6 L711.0,533.8 L713.0,533.0 L715.0,532.3 L717.0,531.7 L719.0,531.2 L721.0,530.8 L723.0,530.5 L725.0,530.3 L727.0,530.2 L729.0,530.2 L731.0,530.4 L733.0,530.6 L735.0,531.0 L737.0,531.5 L739.0,532.1 L741.0,532.7 L743.0,533.4 L745.0,534.2 L747.0,535.1 L749.0,535.9 L751.0,536.8 L753.0,537.7 L755.0,538.6 L757.0,539.5 L759.0,540.3 L761.0,541.1 L763.0,541.8 L765.0,542.5 L767.0,543.0 L769.0,543.5 L771.0,543.8 L773.0,544.1 L775.0,544.2 L777.0,544.2 L779.0,544.1 L781.0,543.9 L783.0,543.5 L785.0,543.1 L787.0,542.6 L789.0,542.0 L791.0,541.3 L793.0,540.5 L795.0,539.7 L797.0,538.8 L799.0,537.9 L801.0,537.0 L803.0,536.1 L805.0,535.2 L807.0,534.4 L809.0,533.6 L811.0,532.9 L813.0,532.2 L815.0,531.6 L817.0,531.1 L819.0,530.7 L821.0,530.4 L823.0,530.3 L825.0,530.2"/>
<path d="M337.0,534.8 L339.0,534.9 L341.0,535.0 L343.0,535.3 L345.0,535.7 L347.0,536.2 L349.0,536.8 L351.0,537.5 L353.0,538.2 L355.0,539.0 L357.0,539.8 L359.0,540.7 L361.0,541.6 L363.0,542.5 L365.0,543.4 L367.0,544.3 L369.0,545.1 L371.0,545.9 L373.0,546.6 L375.0,547.2 L377.0,547.7 L379.0,548.1 L381.0,548.5 L383.0,548.7 L385.0,548.8 L387.0,548.8 L389.0,548.7 L391.0,548.4 L393.0,548.1 L395.0,547.6 L397.0,547.1 L399.0,546.4 L401.0,545.7 L403.0,544.9 L405.0,544.1 L407.0,543.2 L409.0,542.3 L411.0,541.4 L413.0,540.5 L415.0,539.7 L417.0,538.8 L419.0,538.0 L421.0,537.3 L423.0,536.7 L425.0,536.1 L427.0,535.6 L429.0,535.2 L431.0,535.0 L433.0,534.8 L435.0,534.8 L437.0,534.9 L439.0,535.1 L441.0,535.4 L443.0,535.8 L445.0,536.3 L447.0,536.9 L449.0,537.6 L451.0,538.4 L453.0,539.2 L455.0,540.0 L457.0,540.9 L459.0,541.8 L461.0,542.7 L463.0,543.6 L465.0,544.4 L467.0,545.2 L469.0,546.0 L471.0,546.7 L473.0,547.3 L475.0,547.8 L477.0,548.2 L479.0,548.5 L481.0,548.7 L483.0,548.8 L485.0,548.8 L487.0,548.6 L489.0,548.4 L491.0,548.0 L493.0,547.5 L495.0,546.9 L497.0,546.3 L499.0,545.6 L501.0,544.8 L503.0,543.9 L505.0,543.1 L507.0,542.2 L509.0,541.3 L511.0,540.4 L513.0,539.5 L515.0,538.7 L517.0,537.9 L519.0,537.2 L521.0,536.5 L523.0,536.0 L525.0,535.5 L527.0,535.2 L529.0,534.9 L531.0,534.8 L533.0,534.8 L535.0,534.9 L537.0,535.1 L539.0,535.5 L541.0,535.9 L543.0,536.4 L545.0,537.0 L547.0,537.7 L549.0,538.5 L551.0,539.3 L553.0,540.2 L555.0,541.1 L557.0,542.0 L559.0,542.9 L561.0,543.8 L563.0,544.6 L565.0,545.4 L567.0,546.1 L569.0,546.8 L571.0,547.4 L573.0,547.9 L575.0,548.3 L577.0,548.6 L579.0,548.7 L581.0,548.8 L583.0,548.7 L585.0,548.6 L587.0,548.3 L589.0,547.9 L591.0,547.4 L593.0,546.8 L595.0,546.1 L597.0,545.4 L599.0,544.6 L601.0,543.8 L603.0,542.9 L605.0,542.0 L607.0,541.1 L609.0,540.2 L611.0,539.3 L613.0,538.5 L615.0,537.7 L617.0,537.0 L619.0,536.4 L621.0,535.9 L623.0,535.5 L625.0,535.1 L627.0,534.9 L629.0,534.8 L631.0,534.8 L633.0,534.9 L635.0,535.2 L637.0,535.5 L639.0,536.0 L641.0,536.5 L643.0,537.2 L645.0,537.9 L647.0,538.7 L649.0,539.5 L651.0,540.4 L653.0,541.3 L655.0,542.2 L657.0,543.1 L659.0,543.9 L661.0,544.8 L663.0,545.6 L665.0,546.3 L667.0,546.9 L669.0,547.5 L671.0,548.0 L673.0,548.4 L675.0,548.6 L677.0,548.8 L679.0,548.8 L681.0,548.7 L683.0,548.5 L685.0,548.2 L687.0,547.8 L689.0,547.3 L691.0,546.7 L693.0,546.0 L695.0,545.2 L697.0,544.4 L699.0,543.6 L701.0,542.7 L703.0,541.8 L705.0,540.9 L707.0,540.0 L709.0,539.2 L711.0,538.4 L713.0,537.6 L715.0,536.9 L717.0,536.3 L719.0,535.8 L721.0,535.4 L723.0,535.1 L725.0,534.9 L727.0,534.8 L729.0,534.8 L731.0,535.0 L733.0,535.2 L735.0,535.6 L737.0,536.1 L739.0,536.7 L741.0,537.3 L743.0,538.0 L745.0,538.8 L747.0,539.7 L749.0,540.5 L751.0,541.4 L753.0,542.3 L755.0,543.2 L757.0,544.1 L759.0,544.9 L761.0,545.7 L763.0,546.4 L765.0,547.1 L767.0,547.6 L769.0,548.1 L771.0,548.4 L773.0,548.7 L775.0,548.8 L777.0,548.8 L779.0,548.7 L781.0,548.5 L783.0,548.1 L785.0,547.7 L787.0,547.2 L789.0,546.6 L791.0,545.9 L793.0,545.1 L795.0,544.3 L797.0,543.4 L799.0,542.5 L801.0,541.6 L803.0,540.7 L805.0,539.8 L807.0,539.0 L809.0,538.2 L811.0,537.5 L813.0,536.8 L815.0,536.2 L817.0,535.7 L819.0,535.3 L821.0,535.0 L823.0,534.9 L825.0,534.8"/>
<path d="M337.0,539.4 L339.0,539.5 L341.0,539.6 L343.0,539.9 L345.0,540.3 L347.0,540.8 L349.0,541.4 L351.0,542.1 L353.0,542.8 L355.0,543.6 L357.0,544.4 L359.0,545.3 L361.0,546.2 L363.0,547.1 L365.0,548.0 L367.0,548.9 L369.0,549.7 L371.0,550.5 L373.0,551.2 L375.0,551.8 L377.0,552.3 L379.0,552.7 L381.0,553.1 L383.0,553.3 L385.0,553.4 L387.0,553.4 L389.0,553.3 L391.0,553.0 L393.0,552.7 L395.0,552.2 L397.0,551.7 L399.0,551.0 L401.0,550.3 L403.0,549.5 L405.0,548.7 L407.0,547.8 L409.0,546.9 L411.0,546.0 L413.0,545.1 L415.0,544.3 L417.0,543.4 L419.0,542.6 L421.0,541.9 L423.0,541.3 L425.0,540.7 L427.0,540.2 L429.0,539.8 L431.0,539.6 L433.0,539.4 L435.0,539.4 L437.0,539.5 L439.0,539.7 L441.0,540.0 L443.0,540.4 L445.0,540.9 L447.0,541.5 L449.0,542.2 L451.0,543.0 L453.0,543.8 L455.0,544.6 L457.0,545.5 L459.0,546.4 L461.0,547.3 L463.0,548.2 L465.0,549.0 L467.0,549.8 L469.0,550.6 L471.0,551.3 L473.0,551.9 L475.0,552.4 L477.0,552.8 L479.0,553.1 L481.0,553.3 L483.0,553.4 L485.0,553.4 L487.0,553.2 L489.0,553.0 L491.0,552.6 L493.0,552.1 L495.0,551.5 L497.0,550.9 L499.0,550.2 L501.0,549.4 L503.0,548.5 L505.0,547.7 L507.0,546.8 L509.0,545.9 L511.0,545.0 L513.0,544.1 L515.0,543.3 L517.0,542.5 L519.0,541.8 L521.0,541.1 L523.0,540.6 L525.0,540.1 L527.0,539.8 L529.0,539.5 L531.0,539.4 L533.0,539.4 L535.0,539.5 L537.0,539.7 L539.0,540.1 L541.0,540.5 L543.0,541.0 L545.0,541.6 L547.0,542.3 L549.0,543.1 L551.0,543.9 L553.0,544.8 L555.0,545.7 L557.0,546.6 L559.0,547.5 L561.0,548.4 L563.0,549.2 L565.0,550.0 L567.0,550.7 L569.0,551.4 L571.0,552.0 L573.0,552.5 L575.0,552.9 L577.0,553.2 L579.0,553.3 L581.0,553.4 L583.0,553.3 L585.0,553.2 L587.0,552.9 L589.0,552.5 L591.0,552.0 L593.0,551.4 L595.0,550.7 L597.0,550.0 L599.0,549.2 L601.0,548.4 L603.0,547.5 L605.0,546.6 L607.0,545.7 L609.0,544.8 L611.0,543.9 L613.0,543.1 L615.0,542.3 L617.0,541.6 L619.0,541.0 L621.0,540.5 L623.0,540.1 L625.0,539.7 L627.0,539.5 L629.0,539.4 L631.0,539.4 L633.0,539.5 L635.0,539.8 L637.0,540.1 L639.0,540.6 L641.0,541.1 L643.0,541.8 L645.0,542.5 L647.0,543.3 L649.0,544.1 L651.0,545.0 L653.0,545.9 L655.0,546.8 L657.0,547.7 L659.0,548.5 L661.0,549.4 L663.0,550.2 L665.0,550.9 L667.0,551.5 L669.0,552.1 L671.0,552.6 L673.0,553.0 L675.0,553.2 L677.0,553.4 L679.0,553.4 L681.0,553.3 L683.0,553.1 L685.0,552.8 L687.0,552.4 L689.0,551.9 L691.0,551.3 L693.0,550.6 L695.0,549.8 L697.0,549.0 L699.0,548.2 L701.0,547.3 L703.0,546.4 L705.0,545.5 L707.0,544.6 L709.0,543.8 L711.0,543.0 L713.0,542.2 L715.0,541.5 L717.0,540.9 L719.0,540.4 L721.0,540.0 L723.0,539.7 L725.0,539.5 L727.0,539.4 L729.0,539.4 L731.0,539.6 L733.0,539.8 L735.0,540.2 L737.0,540.7 L739.0,541.3 L741.0,541.9 L743.0,542.6 L745.0,543.4 L747.0,544.3 L749.0,545.1 L751.0,546.0 L753.0,546.9 L755.0,547.8 L757.0,548.7 L759.0,549.5 L761.0,550.3 L763.0,551.0 L765.0,551.7 L767.0,552.2 L769.0,552.7 L771.0,553.0 L773.0,553.3 L775.0,553.4 L777.0,553.4 L779.0,553.3 L781.0,553.1 L783.0,552.7 L785.0,552.3 L787.0,551.8 L789.0,551.2 L791.0,550.5 L793.0,549.7 L795.0,548.9 L797.0,548.0 L799.0,547.1 L801.0,546.2 L803.0,545.3 L805.0,544.4 L807.0,543.6 L809.0,542.8 L811.0,542.1 L813.0,541.4 L815.0,540.8 L817.0,540.3 L819.0,539.9 L821.0,539.6 L823.0,539.5 L825.0,539.4"/>
<path d="M337.0,544.0 L339.0,544.1 L341.0,544.2 L343.0,544.5 L345.0,544.9 L347.0,545.4 L349.0,546.0 L351.0,546.7 L353.0,547.4 L355.0,548.2 L357.0,549.0 L359.0,549.9 L361.0,550.8 L363.0,551.7 L365.0,552.6 L367.0,553.5 L369.0,554.3 L371.0,555.1 L373.0,555.8 L375.0,556.4 L377.0,556.9 L379.0,557.3 L381.0,557.7 L383.0,557.9 L385.0,558.0 L387.0,558.0 L389.0,557.9 L391.0,557.6 L393.0,557.3 L395.0,556.8 L397.0,556.3 L399.0,555.6 L401.0,554.9 L403.0,554.1 L405.0,553.3 L407.0,552.4 L409.0,551.5 L411.0,550.6 L413.0,549.7 L415.0,548.9 L417.0,548.0 L419.0,547.2 L421.0,546.5 L423.0,545.9 L425.0,545.3 L427.0,544.8 L429.0,544.4 L431.0,544.2 L433.0,544.0 L435.0,544.0 L437.0,544.1 L439.0,544.3 L441.0,544.6 L443.0,545.0 L445.0,545.5 L447.0,546.1 L449.0,546.8 L451.0,547.6 L453.0,548.4 L455.0,549.2 L457.0,550.1 L459.0,551.0 L461.0,551.9 L463.0,552.8 L465.0,553.6 L467.0,554.4 L469.0,555.2 L471.0,555.9 L473.0,556.5 L475.0,557.0 L477.0,557.4 L479.0,557.7 L481.0,557.9 L483.0,558.0 L485.0,558.0 L487.0,557.8 L489.0,557.6 L491.0,557.2 L493.0,556.7 L495.0,556.1 L497.0,555.5 L499.0,554.8 L501.0,554.0 L503.0,553.1 L505.0,552.3 L507.0,551.4 L509.0,550.5 L511.0,549.6 L513.0,548.7 L515.0,547.9 L517.0,547.1 L519.0,546.4 L521.0,545.7 L523.0,545.2 L525.0,544.7 L527.0,544.4 L529.0,544.1 L531.0,544.0 L533.0,544.0 L535.0,544.1 L537.0,544.3 L539.0,544.7 L541.0,545.1 L543.0,545.6 L545.0,546.2 L547.0,546.9 L549.0,547.7 L551.0,548.5 L553.0,549.4 L555.0,550.3 L557.0,551.2 L559.0,552.1 L561.0,553.0 L563.0,553.8 L565.0,554.6 L567.0,555.3 L569.0,556.0 L571.0,556.6 L573.0,557.1 L575.0,557.5 L577.0,557.8 L579.0,557.9 L581.0,558.0 L583.0,557.9 L585.0,557.8 L587.0,557.5 L589.0,557.1 L591.0,556.6 L593.0,556.0 L595.0,555.3 L597.0,554.6 L599.0,553.8 L601.0,553.0 L603.0,552.1 L605.0,551.2 L607.0,550.3 L609.0,549.4 L611.0,548.5 L613.0,547.7 L615.0,546.9 L617.0,546.2 L619.0,545.6 L621.0,545.1 L623.0,544.7 L625.0,544.3 L627.0,544.1 L629.0,544.0 L631.0,544.0 L633.0,544.1 L635.0,544.4 L637.0,544.7 L639.0,545.2 L641.0,545.7 L643.0,546.4 L645.0,547.1 L647.0,547.9 L649.0,548.7 L651.0,549.6 L653.0,550.5 L655.0,551.4 L657.0,552.3 L659.0,553.1 L661.0,554.0 L663.0,554.8 L665.0,555.5 L667.0,556.1 L669.0,556.7 L671.0,557.2 L673.0,557.6 L675.0,557.8 L677.0,558.0 L679.0,558.0 L681.0,557.9 L683.0,557.7 L685.0,557.4 L687.0,557.0 L689.0,556.5 L691.0,555.9 L693.0,555.2 L695.0,554.4 L697.0,553.6 L699.0,552.8 L701.0,551.9 L703.0,551.0 L705.0,550.1 L707.0,549.2 L709.0,548.4 L711.0,547.6 L713.0,546.8 L715.0,546.1 L717.0,545.5 L719.0,545.0 L721.0,544.6 L723.0,544.3 L725.0,544.1 L727.0,544.0 L729.0,544.0 L731.0,544.2 L733.0,544.4 L735.0,544.8 L737.0,545.3 L739.0,545.9 L741.0,546.5 L743.0,547.2 L745.0,548.0 L747.0,548.9 L749.0,549.7 L751.0,550.6 L753.0,551.5 L755.0,552.4 L757.0,553.3 L759.0,554.1 L761.0,554.9 L763.0,555.6 L765.0,556.3 L767.0,556.8 L769.0,557.3 L771.0,557.6 L773.0,557.9 L775.0,558.0 L777.0,558.0 L779.0,557.9 L781.0,557.7 L783.0,557.3 L785.0,556.9 L787.0,556.4 L789.0,555.8 L791.0,555.1 L793.0,554.3 L795.0,553.5 L797.0,552.6 L799.0,551.7 L801.0,550.8 L803.0,549.9 L805.0,549.0 L807.0,548.2 L809.0,547.4 L811.0,546.7 L813.0,546.0 L815.0,545.4 L817.0,544.9 L819.0,544.5 L821.0,544.2 L823.0,544.1 L825.0,544.0"/>
</g>
<rect x="243.9" y="86.7" width="2.3" height="118" fill="#b5a887"/>
<rect x="174.4" y="203" width="650.6" height="2" fill="#83a197"/>
<rect x="174.4" y="222" width="650.6" height="3.8" fill="#858480"/>
<rect x="272" y="86.7" width="2.9" height="425.8" fill="#858480"/>
<rect x="458" y="86.7" width="4" height="393" fill="#858480"/>
<rect x="564" y="225" width="4" height="254" fill="#858480"/>
<rect x="460" y="338.6" width="365" height="2.6" fill="#858480"/>
<rect x="578" y="86.7" width="4.5" height="346" fill="#6b6a66"/>
<rect x="578" y="428.7" width="247" height="4" fill="#6b6a66"/>
<rect x="180" y="477.2" width="645" height="4.2" fill="#858480"/>
<rect x="639.9" y="216.6" width="72.89999999999998" height="14.0" fill="#858480"/>
<text x="649.4" y="226.35" font-size="8" fill="#ffffff" font-weight="bold" text-anchor="start" textLength="55.3" lengthAdjust="spacingAndGlyphs" >SATHORN RD.</text>
<rect x="646.6" y="332.9" width="59.69999999999993" height="14.200000000000045" fill="#858480"/>
<text x="656.6" y="342.75" font-size="8" fill="#ffffff" font-weight="bold" text-anchor="start" textLength="39.1" lengthAdjust="spacingAndGlyphs" >CHAN RD.</text>
<rect x="623.7" y="424.3" width="105.39999999999998" height="13.699999999999989" fill="#6b6a66"/>
<text x="632.9" y="433.9" font-size="8" fill="#ffffff" font-weight="bold" text-anchor="start" textLength="87.1" lengthAdjust="spacingAndGlyphs" >SRIRAT EXPRESSWAY</text>
<rect x="642.9" y="472.3" width="64.20000000000005" height="14.0" fill="#858480"/>
<text x="650.9" y="482.05" font-size="8" fill="#ffffff" font-weight="bold" text-anchor="start" textLength="50.0" lengthAdjust="spacingAndGlyphs" >RAMA III RD.</text>
<rect x="266.1" y="278.9" width="14.399999999999977" height="114.5" fill="#858480"/>
<g transform="translate(276.05,382.5) rotate(-90)"><text x="0" y="0" font-size="8" fill="#ffffff" font-weight="bold" text-anchor="start" textLength="92.9" lengthAdjust="spacingAndGlyphs" >CHAROENNAKORN RD.</text></g>
<rect x="453.2" y="279.6" width="13.699999999999989" height="114.09999999999997" fill="#858480"/>
<g transform="translate(462.79999999999995,383) rotate(-90)"><text x="0" y="0" font-size="8" fill="#ffffff" font-weight="bold" text-anchor="start" textLength="93" lengthAdjust="spacingAndGlyphs" >CHAROENKRUNG RD.</text></g>
<rect x="558.9" y="292.3" width="13.899999999999977" height="88.69999999999999" fill="#858480"/>
<g transform="translate(568.5999999999999,373) rotate(-90)"><text x="0" y="0" font-size="8" fill="#ffffff" font-weight="bold" text-anchor="start" textLength="73" lengthAdjust="spacingAndGlyphs" >CHAROENRAT RD.</text></g>
<rect x="342.2" y="285.5" width="13.0" height="101.5" fill="#5b8490"/>
<g transform="translate(351.45,380.4) rotate(-90)"><text x="0" y="0" font-size="8" fill="#ffffff" font-weight="bold" text-anchor="start" textLength="84.6" lengthAdjust="spacingAndGlyphs" >CHAO PHRAYA RIVER</text></g>
<circle cx="245.3" cy="116.3" r="9.3" fill="#b5a887"/><use href="#sta" x="245.3" y="116.3"/>
<circle cx="244.5" cy="204.2" r="9.3" fill="#6b9a8a"/><use href="#sta" x="244.5" y="204.2"/>
<circle cx="434.4" cy="204" r="9.3" fill="#6b9a8a"/><use href="#sta" x="434.4" y="204"/>
<circle cx="605" cy="203.4" r="9.3" fill="#6b9a8a"/><use href="#sta" x="605" y="203.4"/>
<text x="215.5" y="116" font-size="5.8" fill="#b9a98a" font-weight="bold" text-anchor="middle" textLength="29.4" lengthAdjust="spacingAndGlyphs" >CHAROEN</text>
<text x="215.5" y="122.7" font-size="5.8" fill="#b9a98a" font-weight="bold" text-anchor="middle" textLength="26" lengthAdjust="spacingAndGlyphs" >NAKHON</text>
<text x="214.5" y="192" font-size="6.6" fill="#7a9a90" font-weight="bold" text-anchor="middle" textLength="45" lengthAdjust="spacingAndGlyphs" >KRUNG THON</text>
<text x="214.5" y="199.7" font-size="6.6" fill="#7a9a90" font-weight="bold" text-anchor="middle" textLength="17" lengthAdjust="spacingAndGlyphs" >BURI</text>
<text x="434.5" y="182.2" font-size="6.4" fill="#6a7a75" font-weight="bold" text-anchor="middle" textLength="27.3" lengthAdjust="spacingAndGlyphs" >SAPHAN</text>
<text x="434.5" y="189.8" font-size="6.4" fill="#6a7a75" font-weight="bold" text-anchor="middle" textLength="23.5" lengthAdjust="spacingAndGlyphs" >TAKSIN</text>
<text x="605" y="190" font-size="6.8" fill="#6f9488" font-weight="bold" text-anchor="middle" textLength="32" lengthAdjust="spacingAndGlyphs" >SURASAK</text>
<circle cx="304.4" cy="119.9" r="4.4" fill="#7a7a78"/>
<text x="305.4" y="110.7" font-size="6.6" fill="#6b6b6b" font-weight="normal" text-anchor="middle" textLength="35" lengthAdjust="spacingAndGlyphs" >ICONSIAM</text>
<circle cx="432.4" cy="106.2" r="4.4" fill="#7a7a78"/>
<text x="423.8" y="108.5" font-size="6.2" fill="#6b6b6b" font-weight="normal" text-anchor="end" textLength="43.8" lengthAdjust="spacingAndGlyphs" >ASSUMPTION</text>
<text x="423.8" y="116.2" font-size="6.2" fill="#6b6b6b" font-weight="normal" text-anchor="end" textLength="26.5" lengthAdjust="spacingAndGlyphs" >SCHOOL</text>
<circle cx="432.4" cy="136.7" r="4.4" fill="#7a7a78"/>
<text x="423.8" y="138.3" font-size="6.2" fill="#6b6b6b" font-weight="normal" text-anchor="end" textLength="35" lengthAdjust="spacingAndGlyphs" >ROBINSON</text>
<text x="423.8" y="145.9" font-size="6.2" fill="#6b6b6b" font-weight="normal" text-anchor="end" textLength="30" lengthAdjust="spacingAndGlyphs" >BANGRAK</text>
<circle cx="617" cy="170.7" r="4.4" fill="#7a7a78"/>
<text x="626" y="173.8" font-size="6.4" fill="#6b6b6b" font-weight="normal" text-anchor="start" textLength="70.6" lengthAdjust="spacingAndGlyphs" >BANGKOK CHRISTIAN</text>
<text x="626" y="181.8" font-size="6.4" fill="#6b6b6b" font-weight="normal" text-anchor="start" textLength="30" lengthAdjust="spacingAndGlyphs" >COLLEGE</text>
<circle cx="606.2" cy="244.9" r="4.4" fill="#7a7a78"/>
<text x="615.2" y="248.1" font-size="6.4" fill="#6b6b6b" font-weight="normal" text-anchor="start" textLength="75.6" lengthAdjust="spacingAndGlyphs" >SAINT LOUIS HOSPITAL</text>
<circle cx="384.6" cy="238.1" r="4.4" fill="#7a7a78"/>
<text x="393.8" y="240.6" font-size="6.2" fill="#6b6b6b" font-weight="normal" text-anchor="start" textLength="31.2" lengthAdjust="spacingAndGlyphs" >SATHORN</text>
<text x="393.8" y="248.2" font-size="6.2" fill="#6b6b6b" font-weight="normal" text-anchor="start" textLength="14.5" lengthAdjust="spacingAndGlyphs" >PIER</text>
<circle cx="384.7" cy="341.8" r="4.4" fill="#7a7a78"/>
<text x="393.3" y="343.7" font-size="6.2" fill="#6b6b6b" font-weight="normal" text-anchor="start" textLength="34.9" lengthAdjust="spacingAndGlyphs" >CHATRIUM</text>
<text x="393.3" y="351.2" font-size="6.2" fill="#6b6b6b" font-weight="normal" text-anchor="start" textLength="14.5" lengthAdjust="spacingAndGlyphs" >PIER</text>
<circle cx="384.7" cy="376.9" r="4.4" fill="#7a7a78"/>
<text x="393.3" y="377" font-size="6.2" fill="#6b6b6b" font-weight="normal" text-anchor="start" textLength="43" lengthAdjust="spacingAndGlyphs" >SHREWSBURY</text>
<text x="393.3" y="384.3" font-size="6.2" fill="#6b6b6b" font-weight="normal" text-anchor="start" textLength="50.7" lengthAdjust="spacingAndGlyphs" >INTERNATIONAL</text>
<text x="393.3" y="391.8" font-size="6.2" fill="#6b6b6b" font-weight="normal" text-anchor="start" textLength="26" lengthAdjust="spacingAndGlyphs" >SCHOOL</text>
<circle cx="384.7" cy="435.6" r="4.4" fill="#7a7a78"/>
<text x="393.3" y="438" font-size="6.2" fill="#6b6b6b" font-weight="normal" text-anchor="start" textLength="34.9" lengthAdjust="spacingAndGlyphs" >ASIATIQUE</text>
<circle cx="554.1" cy="502.3" r="4.4" fill="#7a7a78"/>
<text x="564.4" y="504.6" font-size="6.4" fill="#6b6b6b" font-weight="bold" text-anchor="start" textLength="72.4" lengthAdjust="spacingAndGlyphs" >TERMINAL 21 RAMA III</text>
<circle cx="217.3" cy="425.7" r="4.4" fill="#7a7a78"/>
<text x="218.4" y="439" font-size="5" fill="#555" font-weight="normal" text-anchor="middle" textLength="57.6" lengthAdjust="spacingAndGlyphs" >SAMITIVEJ THONBURI</text>
<text x="218.4" y="445.5" font-size="5" fill="#555" font-weight="normal" text-anchor="middle" textLength="24" lengthAdjust="spacingAndGlyphs" >HOSPITAL</text>
<rect x="470.4" y="344.5" width="76.6" height="77.1" fill="#676661"/>
<circle cx="509.5" cy="382.5" r="23" fill="none" stroke="#9f9e99" stroke-width="1.6"/>
<path d="M496,402 A23,23 0 0 1 505,360" fill="none" stroke="#a8a7a2" stroke-width="3.2" stroke-linecap="round"/>
<path d="M520,363 A23,23 0 0 1 525,399" fill="none" stroke="#a3a29d" stroke-width="2.2" stroke-linecap="round"/>
<rect x="477.1" y="369" width="63.5" height="22.3" fill="none" stroke="#b9b8b3" stroke-width="0.8"/>
<text x="483.2" y="385.2" font-size="13.6" fill="#e6e5e0" font-weight="normal" text-anchor="start" textLength="51.3" lengthAdjust="spacingAndGlyphs" >RHYTHM</text>
<text x="477" y="398.3" font-size="2.4" fill="#d5d4cf" font-weight="bold" text-anchor="start" textLength="63" lengthAdjust="spacingAndGlyphs" >CHAROENKRUNG RAMA III</text>
<rect x="44.5" y="386" width="289.5" height="90" rx="10" ry="10" fill="rgb(43,46,86)" fill-opacity="0.32"/>
<g fill="#ffffff" fill-opacity="0.75">
<path d="M128,411.3 L134,408.6 L140.8,410.8 L134.6,413.4 Z" fill-opacity="0.95"/>
<path d="M128,411.3 L134.6,413.4 L134.6,418.6 L128.2,416.4 Z" fill-opacity="0.85"/>
<path d="M134.6,413.4 L140.8,410.8 L140.8,416.6 L134.6,418.6 Z" fill-opacity="0.7"/>
</g>
<text x="146.5" y="418.4" font-size="10.5" fill="#ffffff" font-weight="normal" text-anchor="start" textLength="38.1" lengthAdjust="spacingAndGlyphs" fill-opacity="0.6">Living</text>
<text x="187.4" y="418.4" font-size="10.5" fill="#ffffff" font-weight="bold" text-anchor="start" textLength="45.5" lengthAdjust="spacingAndGlyphs" fill-opacity="0.75">Insider</text>
<text x="236.4" y="418.4" font-size="4.5" fill="#ffffff" font-weight="normal" text-anchor="start" textLength="14.9" lengthAdjust="spacingAndGlyphs" fill-opacity="0.6">.com</text>
<text x="84.6" y="434" font-size="10" fill="#ffffff" font-weight="normal" text-anchor="start" textLength="211.6" lengthAdjust="spacingAndGlyphs" fill-opacity="0.55">Bangkok Elite Property Studio</text>
<rect x="122" y="437.3" width="14" height="11.5" fill="none" stroke="#fff" stroke-opacity="0.6" stroke-width="1"/>
<rect x="139" y="437.3" width="14" height="11.5" fill="none" stroke="#fff" stroke-opacity="0.6" stroke-width="1"/>
<text x="160.5" y="449" font-size="10" fill="#ffffff" font-weight="normal" text-anchor="start" textLength="98.5" lengthAdjust="spacingAndGlyphs" fill-opacity="0.55">095-941-5999</text>
<path d="M26,605.2 L32.8,605.2 L32.8,622.6 L22.6,622.6 L22.8,608.5 L26,608.5 Z" fill="url(#apg)"/>
<text x="27.8" y="616.3" font-size="4.6" fill="#ffffff" font-weight="bold" text-anchor="middle" >AP</text>
<text x="39.3" y="618.8" font-size="15.3" fill="#0a0a0a" font-weight="900" text-anchor="start" textLength="165.3" lengthAdjust="spacingAndGlyphs" stroke="#0a0a0a" stroke-width="0.8">EMPOWER LIVING</text>
</svg></body></html>
